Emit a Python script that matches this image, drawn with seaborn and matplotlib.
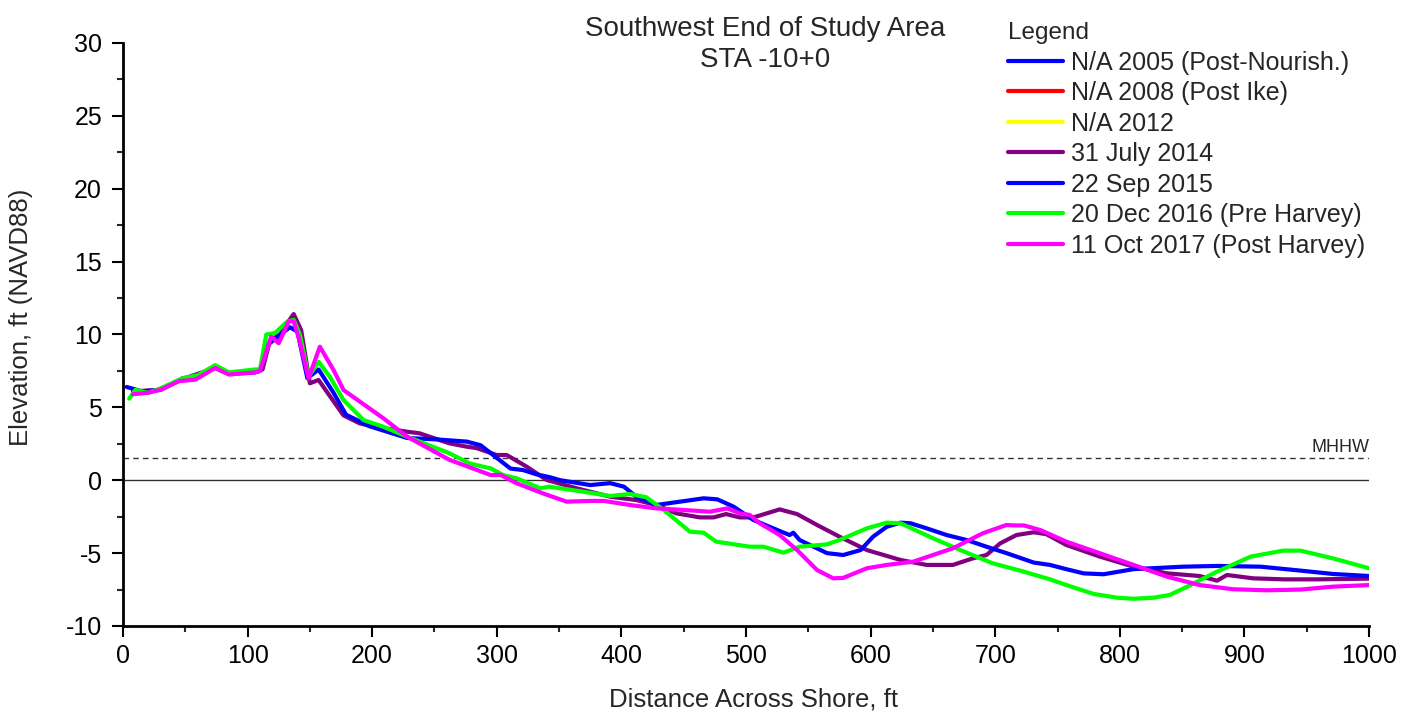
import numpy as np
import pandas as pd
import matplotlib
matplotlib.use("Agg")
import matplotlib.pyplot as plt
import seaborn as sns
from matplotlib.lines import Line2D

# ---------- Profile data (distance ft, elevation ft NAVD88) ----------
x_2014 = [8, 30, 48, 74, 85, 106, 112, 118, 126, 132, 137, 143, 150, 157, 165, 177, 190, 200,
          228, 238, 262, 276, 284, 300, 308, 324, 340, 364, 391, 412, 428, 444, 463, 474, 484,
          495, 506, 527, 541, 557, 575, 597, 624, 645, 666, 682, 693, 704, 717, 731, 741, 757,
          784, 811, 838, 864, 878, 886, 907, 932, 958, 1000]
y_2014 = [6.1, 6.2, 6.95, 7.7, 7.3, 7.45, 7.6, 9.6, 10.0, 10.8, 11.4, 10.3, 6.65, 6.88, 5.9,
          4.45, 3.9, 3.7, 3.33, 3.22, 2.53, 2.3, 2.2, 1.73, 1.73, 0.93, 0.02, -0.55, -1.13,
          -1.36, -1.7, -2.27, -2.55, -2.55, -2.32, -2.55, -2.55, -2.0, -2.32, -3.07, -3.87,
          -4.79, -5.47, -5.81, -5.81, -5.36, -5.13, -4.33, -3.76, -3.57, -3.7, -4.44, -5.24,
          -5.93, -6.39, -6.57, -6.89, -6.5, -6.73, -6.8, -6.8, -6.75]

x_2015 = [3, 15, 30, 48, 60, 74, 85, 106, 110, 115, 125, 134, 140, 148, 157, 169, 179, 198,
          228, 252, 276, 287, 311, 321, 332, 343, 351, 375, 391, 402, 412, 428, 447, 466, 477,
          490, 506, 525, 535, 538, 543, 565, 578, 592, 602, 613, 624, 632, 645, 661, 677, 693,
          709, 731, 744, 757, 771, 787, 811, 851, 878, 913, 945, 971, 1000]
y_2015 = [6.4, 6.1, 6.2, 7.0, 7.1, 7.8, 7.3, 7.4, 7.5, 9.2, 9.9, 10.5, 10.2, 7.0, 7.6, 6.0,
          4.5, 3.7, 2.9, 2.8, 2.65, 2.4, 0.8, 0.7, 0.4, 0.2, 0.0, -0.33, -0.2, -0.44, -1.13,
          -1.7, -1.47, -1.24, -1.31, -1.81, -2.73, -3.41, -3.76, -3.6, -4.1, -5.0, -5.13,
          -4.79, -3.87, -3.19, -2.91, -2.95, -3.3, -3.76, -4.1, -4.56, -5.0, -5.65, -5.81,
          -6.1, -6.39, -6.45, -6.1, -5.93, -5.88, -5.93, -6.2, -6.43, -6.57]

x_2016 = [5, 10, 20, 30, 48, 60, 74, 85, 106, 110, 115, 122, 132, 137, 142, 149, 157, 166,
          177, 193, 209, 228, 262, 278, 289, 295, 305, 316, 335, 342, 369, 391, 407, 420, 434,
          455, 466, 476, 503, 514, 530, 543, 565, 575, 597, 613, 624, 650, 672, 698, 720, 744,
          757, 779, 798, 811, 827, 840, 854, 878, 905, 931, 945, 971, 1000]
y_2016 = [5.6, 6.2, 6.0, 6.3, 7.0, 7.2, 7.9, 7.4, 7.6, 7.6, 10.0, 10.1, 10.9, 11.0, 10.0,
          7.1, 8.13, 7.1, 5.5, 4.13, 3.67, 2.99, 1.85, 1.16, 0.93, 0.82, 0.36, 0.13, -0.55,
          -0.44, -0.78, -1.08, -0.94, -1.17, -2.04, -3.53, -3.6, -4.21, -4.56, -4.56, -4.97,
          -4.56, -4.4, -4.1, -3.3, -2.91, -2.95, -3.98, -4.79, -5.7, -6.2, -6.8, -7.19, -7.8,
          -8.06, -8.13, -8.06, -7.87, -7.3, -6.27, -5.24, -4.83, -4.83, -5.36, -6.04]

x_2017 = [8, 20, 30, 45, 58, 74, 85, 106, 110, 119, 125, 133, 137, 141, 149, 158, 169, 177,
          190, 209, 228, 262, 295, 303, 316, 337, 356, 375, 386, 407, 428, 450, 471, 485, 495,
          503, 511, 527, 541, 557, 570, 578, 597, 613, 634, 650, 666, 690, 709, 715, 723, 736,
          757, 784, 811, 838, 864, 891, 918, 945, 971, 1000]
y_2017 = [5.9, 6.0, 6.2, 6.8, 6.9, 7.7, 7.25, 7.4, 7.5, 9.85, 9.4, 10.9, 10.9, 9.8, 7.0,
          9.16, 7.56, 6.19, 5.4, 4.25, 2.99, 1.4, 0.36, 0.36, -0.21, -0.9, -1.47, -1.42, -1.42,
          -1.7, -1.93, -2.04, -2.16, -1.93, -2.27, -2.38, -2.95, -3.76, -4.79, -6.16, -6.73,
          -6.7, -6.04, -5.81, -5.59, -5.13, -4.67, -3.64, -3.07, -3.1, -3.1, -3.41, -4.21,
          -5.01, -5.81, -6.62, -7.19, -7.48, -7.55, -7.5, -7.3, -7.19]

legend_labels = ["N/A 2005 (Post-Nourish.)", "N/A 2008 (Post Ike)", "N/A 2012",
                 "31 July 2014", "22 Sep 2015", "20 Dec 2016 (Pre Harvey)",
                 "11 Oct 2017 (Post Harvey)"]
legend_colors = ["#0000FF", "#FF0000", "#FFFF00", "#800080", "#0000FF", "#00FF00", "#FF00FF"]

mhhw = 1.5

# ---------- Build long table ----------
frames = []
for lab, xs, ys in [("31 July 2014", x_2014, y_2014), ("22 Sep 2015", x_2015, y_2015),
                    ("20 Dec 2016 (Pre Harvey)", x_2016, y_2016),
                    ("11 Oct 2017 (Post Harvey)", x_2017, y_2017)]:
    frames.append(pd.DataFrame({"Distance": xs, "Elevation": ys, "Survey": lab}))
df = pd.concat(frames, ignore_index=True)

palette = {legend_labels[i]: legend_colors[i] for i in range(3, 7)}

# ---------- Plot ----------
sns.set_style("ticks")
plt.rcParams["font.family"] = ["Liberation Sans", "DejaVu Sans"]
plt.rcParams["axes.unicode_minus"] = False

fig = plt.figure(figsize=(14.02, 7.16), dpi=100)
ax = fig.add_axes([0.0877, 0.1257, 0.8888, 0.8143])

ax.axhline(0, color="#333333", lw=1.0, zorder=1)
ax.axhline(mhhw, color="#333333", lw=1.0, ls=(0, (4, 3)), zorder=1)
ax.text(1000, mhhw + 0.15, "MHHW", ha="right", va="bottom", fontsize=13)

sns.lineplot(data=df, x="Distance", y="Elevation", hue="Survey", palette=palette,
             hue_order=legend_labels[3:], estimator=None, sort=False, lw=3.0,
             legend=False, ax=ax)

ax.set_xlim(0, 1000)
ax.set_ylim(-10, 30)
ax.set_xticks(np.arange(0, 1001, 100))
ax.set_xticks(np.arange(50, 1000, 100), minor=True)
ax.set_yticks(np.arange(-10, 31, 5))
ax.set_yticks(np.arange(-7.5, 30, 5), minor=True)
ax.tick_params(axis="both", which="major", length=8, width=1.5, labelsize=18,
               direction="out", colors="black")
ax.tick_params(axis="x", which="major", pad=5)
ax.tick_params(axis="y", which="major", pad=7)
ax.tick_params(axis="both", which="minor", length=4.5, width=1.5, direction="out")
for side in ["left", "bottom"]:
    ax.spines[side].set_linewidth(2)
    ax.spines[side].set_color("black")
sns.despine(ax=ax)

ax.set_xlabel("Distance Across Shore, ft", fontsize=18.5)
ax.set_ylabel("Elevation, ft (NAVD88)", fontsize=18.5)
ax.xaxis.set_label_coords(0.506, -0.105)
ax.yaxis.set_label_coords(-0.072, 0.53)

fig.text(0.546, 0.978, "Southwest End of Study Area\nSTA -10+0", ha="center", va="top",
         fontsize=20, linespacing=1.25)

handles = [Line2D([], [], color=c, lw=3) for c in legend_colors]
leg = fig.legend(handles, legend_labels, title="Legend", loc="upper left",
                 bbox_to_anchor=(0.7085, 0.99), frameon=False, fontsize=18,
                 title_fontsize=17.5, handlelength=2.2, handletextpad=0.3,
                 labelspacing=0.26, borderpad=0.1)
leg._legend_box.align = "left"

fig.savefig("out.png", dpi=100)
